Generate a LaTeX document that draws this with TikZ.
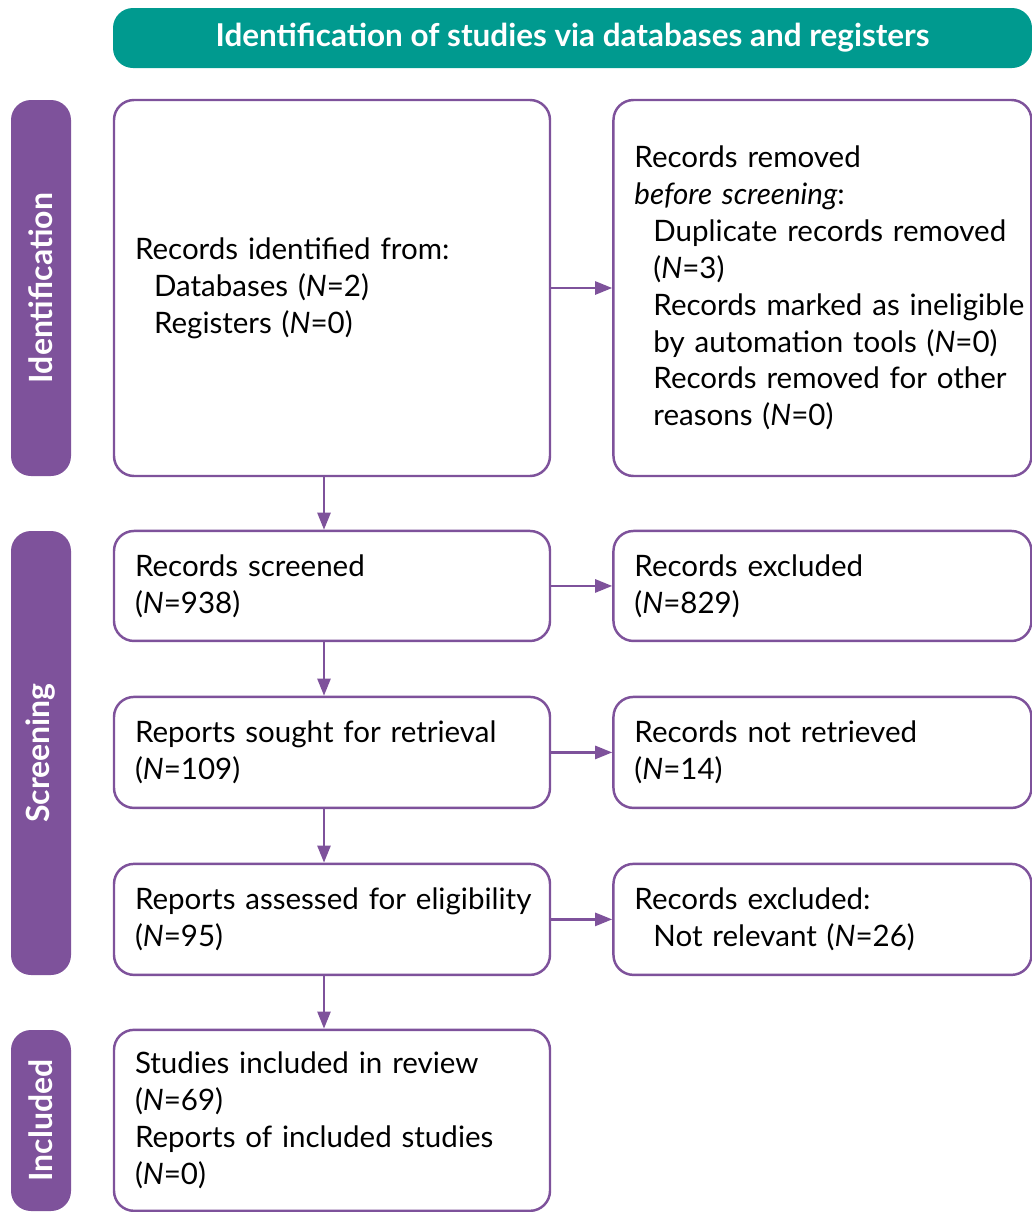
\documentclass[tikz,border=0pt]{standalone}
\usepackage{fontspec}
\setmainfont{Lato}
\usetikzlibrary{arrows.meta,positioning}
\definecolor{prteal}{HTML}{009A8F}
\definecolor{prpurple}{HTML}{7E529B}
\newcommand{\ind}{\hspace*{0.38cm}}
\newcommand{\N}[1]{(\textit{N}=#1)}

\begin{document}
\begin{tikzpicture}[>={Triangle[length=0.34cm,width=0.26cm]},
    box/.style={draw=prpurple, line width=1.4pt, rounded corners=0.4cm, fill=white,
        align=left, inner xsep=0.42cm, inner ysep=0pt,
        font=\fontsize{16.8}{21}\selectfont,
        execute at begin node={\rightskip=-0.6cm plus 1fil}},
    lbox/.style={box, text width=7.88cm, minimum height=#1},
    rbox/.style={box, text width=7.52cm, minimum height=#1},
    phase/.style={fill=prpurple, rounded corners=0.4cm, rotate=90, text=white,
        minimum height=1.2cm, minimum width=#1, inner sep=0pt,
        font=\bfseries\fontsize{18.2}{20}\selectfont},
    arr/.style={->, draw=prpurple, line width=1.4pt}]
    \useasboundingbox (0,0) rectangle (20.64,-24.24);
    \clip (0,0) rectangle (20.64,-24.24);

    % header
    \node[fill=prteal, rounded corners=0.4cm, minimum width=18.38cm, minimum height=1.2cm,
        text=white, font=\bfseries\fontsize{17.9}{20}\selectfont] (head) at (11.45,-0.76)
        {Identification of studies via databases and registers};

    % phases
    \node[phase=7.52cm] (pid) at (0.82,-5.76) {Identification};
    \node[phase=8.88cm] (pscr) at (0.82,-15.06) {Screening};
    \node[phase=3.62cm] (pinc) at (0.82,-22.41) {Included};

    % left column
    \node[lbox=7.52cm] (ident) at (6.64,-5.76)
        {Records identified from:\\ \ind Databases \N{2}\\ \ind Registers \N{0}};
    \node[lbox=2.2cm] (scr) [below=1.05cm of ident] {Records screened\\ \N{938}};
    \node[lbox=2.22cm] (sought) [below=1.07cm of scr] {Reports sought for retrieval\\ \N{109}};
    \node[lbox=2.22cm] (elig) [below=1.07cm of sought] {Reports assessed for eligibility\\ \N{95}};
    \node[lbox=3.62cm] (incl) [below=1.05cm of elig]
        {Studies included in review\\ \N{69}\\ Reports of included studies\\ \N{0}};

    % right column
    \node[rbox=7.52cm] (rem) [right=1.22cm of ident]
        {Records removed\\ \textit{before screening}:\\ \ind Duplicate records removed\\ \ind \N{3}\\
         \ind Records marked as ineligible\\ \ind by automation tools \N{0}\\
         \ind Records removed for other\\ \ind reasons \N{0}};
    \node[rbox=2.2cm] (exc) [right=1.22cm of scr] {Records excluded\\ \N{829}};
    \node[rbox=2.22cm] (notr) [right=1.22cm of sought] {Records not retrieved\\ \N{14}};
    \node[rbox=2.22cm] (exc2) [right=1.22cm of elig] {Records excluded:\\ \ind Not relevant \N{26}};

    \draw[arr] ([xshift=-0.16cm]ident.south) -- ([xshift=-0.16cm]scr.north);
    \draw[arr] ([xshift=-0.16cm]scr.south) -- ([xshift=-0.16cm]sought.north);
    \draw[arr] ([xshift=-0.16cm]sought.south) -- ([xshift=-0.16cm]elig.north);
    \draw[arr] ([xshift=-0.16cm]elig.south) -- ([xshift=-0.16cm]incl.north);
    \draw[arr] (ident) -- (rem);
    \draw[arr] (scr) -- (exc);
    \draw[arr] (sought) -- (notr);
    \draw[arr] (elig) -- (exc2);
\end{tikzpicture}
\end{document}
